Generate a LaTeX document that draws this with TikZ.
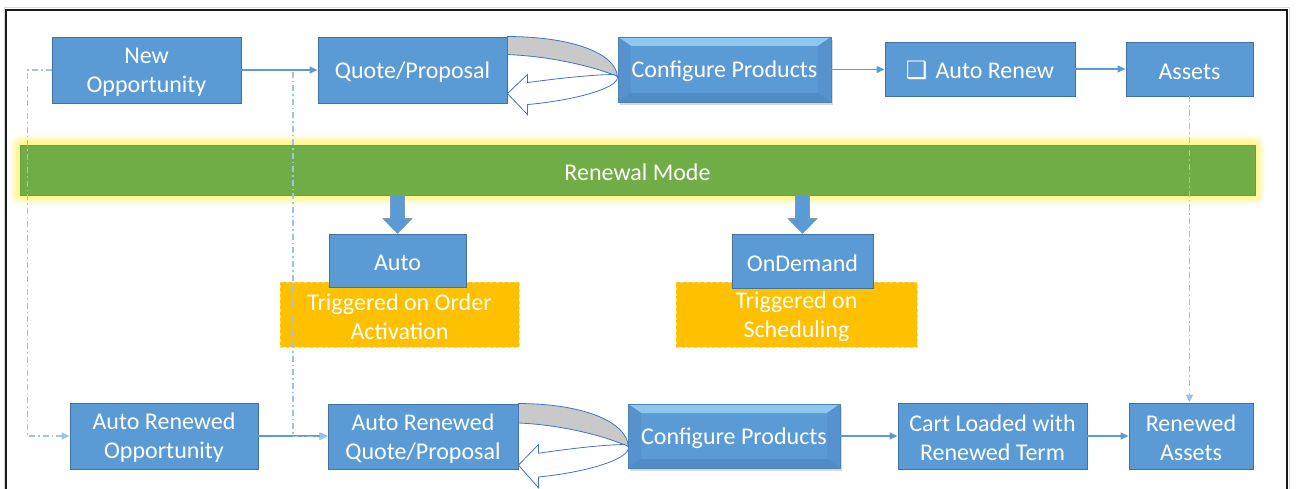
\documentclass[tikz,border=0pt]{standalone}
\usepackage{fontspec}
\setmainfont{Carlito}
\newfontfamily\symfont{DejaVu Sans}
\usetikzlibrary{arrows.meta,shadows,calc,backgrounds}

\definecolor{boxblue}{HTML}{5B9BD5}
\definecolor{boxedge}{HTML}{41719C}
\definecolor{dashblue}{HTML}{9DC3E6}
\definecolor{barg}{HTML}{70AD47}
\definecolor{baredge}{HTML}{67A042}
\definecolor{glowc}{HTML}{FFF56B}
\definecolor{gold}{HTML}{FFC000}
\definecolor{goldedge}{HTML}{FFD966}
\definecolor{ucurve}{HTML}{4472C4}
\definecolor{ugray}{HTML}{C9C9C9}
\definecolor{bevtop}{HTML}{8CC8F0}
\definecolor{bevside}{HTML}{5592CE}
\definecolor{bevbot}{HTML}{4F8BC6}

\newcommand\tup{\rule{0pt}{20.5pt}}

\tikzset{
  x=1pt, y=-1pt,
  txt/.style={font=\fontsize{24}{29}\selectfont, text=white, align=center, inner sep=0pt,
    execute at begin node={\rule{0pt}{20.5pt}}},
  box/.style={txt, draw=boxedge, line width=0.9pt, fill=boxblue},
  note/.style={txt, draw=goldedge, dashed, line width=0.8pt, fill=gold},
  bevel/.style={txt, fill=boxblue, draw=boxblue!85!black, line width=0.5pt,
    drop shadow={shadow xshift=2pt, shadow yshift=-3pt, opacity=0.3},
    path picture={
      \coordinate (pnw) at (path picture bounding box.north west);
      \coordinate (pne) at (path picture bounding box.north east);
      \coordinate (psw) at (path picture bounding box.south west);
      \coordinate (pse) at (path picture bounding box.south east);
      \fill[bevtop] (pnw) -- (pne) -- ($(pne)+(-13,9)$) -- ($(pnw)+(13,9)$) -- cycle;
      \fill[bevside] (pnw) -- ($(pnw)+(13,9)$) -- ($(psw)+(13,-9)$) -- (psw) -- cycle;
      \fill[bevside] (pne) -- ($(pne)+(-13,9)$) -- ($(pse)+(-13,-9)$) -- (pse) -- cycle;
      \fill[bevbot] (psw) -- ($(psw)+(13,-9)$) -- ($(pse)+(-13,-9)$) -- (pse) -- cycle;
    }},
  conn/.style={draw=boxblue, line width=1.2pt, -{Triangle[length=8pt,width=7pt]}},
  dashconn/.style={draw=dashblue, line width=1.1pt, dash pattern=on 6pt off 3pt on 1.5pt off 3pt,
    -{Triangle[length=8pt,width=7pt]}},
  blockarrow/.style={fill=boxblue, draw=boxedge!70, line width=0.6pt},
  ugrayband/.style={fill=ugray, draw=ucurve, line width=0.8pt},
  uwhite/.style={fill=white, draw=ucurve, line width=0.8pt},
}

\newcommand\myuturn{%
  \path[ugrayband] (0,0) .. controls (60,0) and (108,15) .. (110,40)
     .. controls (95,33) and (50,20) .. (0,18) -- cycle;
  \path[uwhite] (20,46) .. controls (50,42) and (85,38) .. (106,38) -- (110,40)
     .. controls (112,52) and (65,64) .. (20,68) -- (20,78) -- (0,57) -- (20,38) -- cycle;
}

\begin{document}
\begin{tikzpicture}
\useasboundingbox (0,0) rectangle (1296,489);

% frame
\draw[black!15, line width=1pt] (4,489) -- (4,8) -- (1289,8) -- (1289,489);
\draw[black!90, line width=2pt] (6,489) -- (6,10) -- (1287,10) -- (1287,489);

% top row
\node[box, minimum width=189pt, minimum height=66pt] (newopp) at (146.5,70) {\tup New\\Opportunity};
\node[box, minimum width=189pt, minimum height=66pt] (quote) at (412.5,70) {Quote/Proposal};
\node[bevel, minimum width=213pt, minimum height=65pt] (cfg1) at (724.5,69.5) {Configure Products};
\node[box, minimum width=190pt, minimum height=54pt] (autorenew) at (980,69) {{\symfont ❑}\hspace{8pt}Auto Renew};
\node[box, minimum width=127pt, minimum height=54pt] (assets) at (1189.5,69) {Assets};

% renewal bar
\node[txt, fill=barg, draw=baredge, line width=0.8pt, minimum width=1235pt, minimum height=50pt] (bar) at (637.5,170) {Renewal Mode};
\begin{scope}[on background layer]
  \fill[white] (0,0) rectangle (1296,489);
  \foreach \g/\o in {9/0.18,7/0.22,5/0.3,3/0.4}{
    \fill[glowc, opacity=\o, rounded corners=8pt] ($(bar.north west)+(-\g,-\g)$) rectangle ($(bar.south east)+(\g,\g)$);
  }
\end{scope}

% middle
\node[note, minimum width=239pt, minimum height=65pt] (trig1) at (399.5,314.5) {\tup Triggered on Order\\Activation};
\node[box, minimum width=137pt, minimum height=53pt] (auto) at (397.5,260.5) {Auto};
\node[note, minimum width=241pt, minimum height=65pt] (trig2) at (796.5,314.5) {\tup Triggered on\\Scheduling};
\node[box, minimum width=141pt, minimum height=54pt] (ondemand) at (802.5,261) {OnDemand};

% block arrows
\path[blockarrow] (auto.north) -- ++(-14.5,-15) -- ++(7.5,0) -- ($(auto.north |- bar.south)+(-7,0)$)
  -- ++(14,0) -- ($(auto.north)+(7,-15)$) -- ++(7.5,0) -- cycle;
\path[blockarrow] (ondemand.north) -- ++(-14.5,-15) -- ++(7.5,0) -- ($(ondemand.north |- bar.south)+(-7,0)$)
  -- ++(14,0) -- ($(ondemand.north)+(7,-15)$) -- ++(7.5,0) -- cycle;

% bottom row
\node[box, minimum width=188pt, minimum height=66pt] (aro) at (164,436) {\tup Auto Renewed\\Opportunity};
\node[box, minimum width=190pt, minimum height=65pt] (arq) at (423,436.5) {\tup Auto Renewed\\Quote/Proposal};
\node[bevel, minimum width=212pt, minimum height=64pt] (cfg2) at (734,436) {Configure Products};
\node[box, minimum width=189pt, minimum height=66pt] (cart) at (992.5,436) {\tup Cart Loaded with\\Renewed Term};
\node[box, minimum width=124pt, minimum height=66pt] (renassets) at (1191,436) {\tup Renewed\\Assets};

% u-turn arrows
\begin{scope}[shift={(quote.north east)}]
  \myuturn
\end{scope}
\begin{scope}[shift={(arq.north east)}, yscale=1.08]
  \myuturn
\end{scope}

% connectors
\draw[conn] (newopp) -- (quote);
\draw[conn] (cfg1.east) -- (cfg1.east -| autorenew.west);
\draw[conn] (autorenew) -- (assets);
\draw[conn] (aro) -- (arq.west |- aro.east);
\draw[conn] (cfg2) -- (cart);
\draw[conn] (cart) -- (renassets);

\coordinate (branch) at (293,72);
\draw[dashconn] (newopp.west) -- ++(-24,0) |- (aro.west);
\draw[dashconn] (branch) |- (arq.west);
\draw[dashconn] (assets.south) -- (assets.south |- renassets.north);
\end{tikzpicture}
\end{document}
